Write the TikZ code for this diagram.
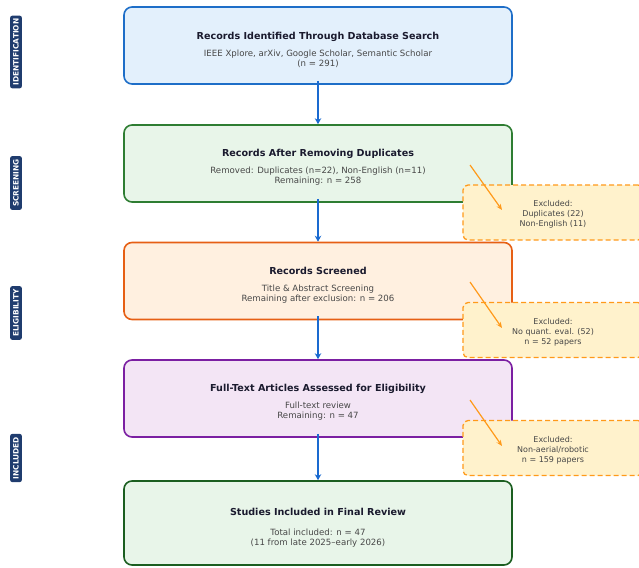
\documentclass[tikz,border=0pt]{standalone}
\usepackage{fontspec}
\setmainfont{DejaVu Sans}
\usetikzlibrary{arrows.meta}
\definecolor{titleInk}{HTML}{1A1A2E}
\definecolor{subInk}{HTML}{474747}
\definecolor{flowBlue}{HTML}{1A6AD0}
\definecolor{tagNavy}{HTML}{1F3C6E}
\definecolor{exclLine}{HTML}{FF9A1A}
\definecolor{exclFill}{HTML}{FFF2CC}
\definecolor{idLine}{HTML}{1E6EC8}
\definecolor{idFill}{HTML}{E3F0FC}
\definecolor{dupLine}{HTML}{2E7D32}
\definecolor{dupFill}{HTML}{E8F5E9}
\definecolor{scrLine}{HTML}{E65F14}
\definecolor{scrFill}{HTML}{FFF0E0}
\definecolor{fullLine}{HTML}{7B1FA2}
\definecolor{fullFill}{HTML}{F3E5F5}
\definecolor{finLine}{HTML}{1B5E20}
\definecolor{finFill}{HTML}{E8F5E9}
\begin{document}
\begin{tikzpicture}[x=1pt,y=-1pt,
    prismaBox/.style={draw,line width=1.6pt,rounded corners=8pt,minimum width=388pt,
        minimum height=77pt},
    boxText/.style={align=center,text=subInk,font=\fontsize{8.6}{10}\selectfont},
    exclBox/.style={draw=exclLine,fill=exclFill,line width=1.3pt,dash pattern=on 5pt off 3pt,
        rounded corners=5pt,minimum width=180pt,minimum height=55pt,align=center,
        text=subInk,font=\fontsize{8}{10}\selectfont},
    stageTag/.style={fill=tagNavy,text=white,rounded corners=2pt,rotate=90,inner sep=3pt,
        font=\fontsize{7.4}{8}\selectfont\bfseries},
    flowArr/.style={-{Stealth[length=6pt,width=6.5pt]},line width=2.6pt,draw=flowBlue},
    exclArr/.style={-{Stealth[length=6pt,width=5pt]},line width=1.2pt,draw=exclLine},
]
\clip (0,0) rectangle (639,567);
% Stage tags
\node[stageTag] (tagId) at (16,52) {IDENTIFICATION};
\node[stageTag] (tagScr) at (16,183) {SCREENING};
\node[stageTag] (tagElig) at (16,313) {ELIGIBILITY};
\node[stageTag] (tagIncl) at (16,458) {INCLUDED};
% Main flow
\node[prismaBox,draw=idLine,fill=idFill] (recId) at (318,45.5) {};
\node[prismaBox,draw=dupLine,fill=dupFill] (recDup) at (318,163.5) {};
\node[prismaBox,draw=scrLine,fill=scrFill] (recScr) at (318,281) {};
\node[prismaBox,draw=fullLine,fill=fullFill] (fullTxt) at (318,398.5) {};
\node[prismaBox,minimum height=84pt,draw=finLine,fill=finFill] (finalRev) at (318,523) {};
\node[boxText] (recIdTxt) at ([yshift=-4pt]recId.center)
    {{\color{titleInk}\bfseries\fontsize{9.6}{10}\selectfont Records Identified Through Database Search}\\[7pt]
     IEEE Xplore, arXiv, Google Scholar, Semantic Scholar\\(n = 291)};
\node[boxText] (recDupTxt) at ([yshift=-4pt]recDup.center)
    {{\color{titleInk}\bfseries\fontsize{9.6}{10}\selectfont Records After Removing Duplicates}\\[7pt]
     Removed: Duplicates (n=22), Non-English (n=11)\\Remaining: n = 258};
\node[boxText] (recScrTxt) at ([yshift=-4pt]recScr.center)
    {{\color{titleInk}\bfseries\fontsize{9.6}{10}\selectfont Records Screened}\\[7pt]
     Title \& Abstract Screening\\Remaining after exclusion: n = 206};
\node[boxText] (fullTxtTxt) at ([yshift=-4pt]fullTxt.center)
    {{\color{titleInk}\bfseries\fontsize{9.6}{10}\selectfont Full-Text Articles Assessed for Eligibility}\\[7pt]
     Full-text review\\Remaining: n = 47};
\node[boxText] (finalRevTxt) at ([yshift=-5pt]finalRev.center)
    {{\color{titleInk}\bfseries\fontsize{9.6}{10}\selectfont Studies Included in Final Review}\\[10pt]
     Total included: n = 47\\(11 from late 2025--early 2026)};
\draw[flowArr] ([yshift=4pt]recId.south) -- (recDup.north);
\draw[flowArr] ([yshift=4pt]recDup.south) -- (recScr.north);
\draw[flowArr] ([yshift=4pt]recScr.south) -- (fullTxt.north);
\draw[flowArr] ([yshift=4pt]fullTxt.south) -- (finalRev.north);
% Exclusions
\node[exclBox] (exDup) at (553,212.5) {};
\node[exclBox] (exQuant) at (553,330) {};
\node[exclBox] (exAerial) at (553,448) {};
\node[exclBox,draw=none,fill=none] (exDupTxt) at ([yshift=-2pt]exDup.center) {Excluded:\\Duplicates (22)\\Non-English (11)};
\node[exclBox,draw=none,fill=none] (exQuantTxt) at ([yshift=-2pt]exQuant.center) {Excluded:\\No quant. eval. (52)\\n = 52 papers};
\node[exclBox,draw=none,fill=none] (exAerialTxt) at ([yshift=-2pt]exAerial.center) {Excluded:\\Non-aerial/robotic\\n = 159 papers};
\coordinate (exDupFrom) at (470,165);
\coordinate (exDupTo) at (502,210);
\coordinate (exQuantFrom) at (470,282);
\coordinate (exQuantTo) at (502,328);
\coordinate (exAerialFrom) at (470,400);
\coordinate (exAerialTo) at (502,446);
\draw[exclArr] (exDupFrom) -- (exDupTo);
\draw[exclArr] (exQuantFrom) -- (exQuantTo);
\draw[exclArr] (exAerialFrom) -- (exAerialTo);
\end{tikzpicture}
\end{document}
